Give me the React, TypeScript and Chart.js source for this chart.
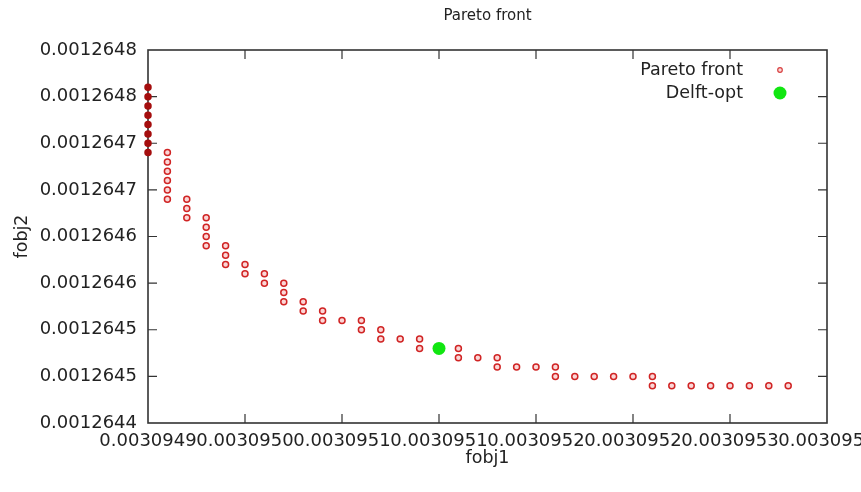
import React, { useEffect, useRef } from "react";
import { Chart, registerables } from "chart.js";

Chart.register(...registerables);

// Pareto front: one x value per column, list of y values per column
const paretoX = [
  0.0030949, 0.00309491, 0.00309492, 0.00309493, 0.00309494, 0.00309495,
  0.00309496, 0.00309497, 0.00309498, 0.00309499, 0.003095, 0.00309501,
  0.00309502, 0.00309503, 0.00309504, 0.00309505, 0.00309506, 0.00309507,
  0.00309508, 0.00309509, 0.0030951, 0.00309511, 0.00309512, 0.00309513,
  0.00309514, 0.00309515, 0.00309516, 0.00309517, 0.00309518, 0.00309519,
  0.0030952, 0.00309521, 0.00309522, 0.00309523,
];
const paretoY = [
  [0.00126469, 0.0012647, 0.00126471, 0.00126472, 0.00126473, 0.00126474, 0.00126475, 0.00126476],
  [0.00126464, 0.00126465, 0.00126466, 0.00126467, 0.00126468, 0.00126469],
  [0.00126462, 0.00126463, 0.00126464],
  [0.00126459, 0.0012646, 0.00126461, 0.00126462],
  [0.00126457, 0.00126458, 0.00126459],
  [0.00126456, 0.00126457],
  [0.00126455, 0.00126456],
  [0.00126453, 0.00126454, 0.00126455],
  [0.00126452, 0.00126453],
  [0.00126451, 0.00126452],
  [0.00126451],
  [0.0012645, 0.00126451],
  [0.00126449, 0.0012645],
  [0.00126449],
  [0.00126448, 0.00126449],
  [0.00126448],
  [0.00126447, 0.00126448],
  [0.00126447],
  [0.00126446, 0.00126447],
  [0.00126446],
  [0.00126446],
  [0.00126445, 0.00126446],
  [0.00126445],
  [0.00126445],
  [0.00126445],
  [0.00126445],
  [0.00126444, 0.00126445],
  [0.00126444],
  [0.00126444],
  [0.00126444],
  [0.00126444],
  [0.00126444],
  [0.00126444],
  [0.00126444],
];

const delftX = [0.00309505];
const delftY = [0.00126448];

const xTickValues = [
  0.0030949, 0.00309495, 0.003095, 0.00309505, 0.0030951, 0.00309515, 0.0030952, 0.00309525,
];
const xTickLabels = [
  "0.0030949", "0.0030950", "0.0030951", "0.0030951", "0.0030952", "0.0030952", "0.0030953", "0.0030954",
];
const yTickValues = [
  0.0012644, 0.00126445, 0.0012645, 0.00126455, 0.0012646, 0.00126465, 0.0012647, 0.00126475, 0.0012648,
];
const yTickLabels = [
  "0.0012644", "0.0012645", "0.0012645", "0.0012646", "0.0012646", "0.0012647", "0.0012647", "0.0012648", "0.0012648",
];

const FONT = "'DejaVu Sans', sans-serif";
const TEXT = "#222222";
const FRAME = "#333333";

const framePlugin = {
  id: "gnuframe",
  beforeDatasetsDraw(chart: any) {
    const { ctx, chartArea, scales } = chart;
    const { left, right, top, bottom } = chartArea;
    const tl = 9;
    ctx.save();
    ctx.strokeStyle = FRAME;
    ctx.lineWidth = 1.6;
    ctx.strokeRect(left, top, right - left, bottom - top);
    ctx.lineWidth = 1.2;
    ctx.beginPath();
    scales.x.ticks.forEach((t: any) => {
      const px = scales.x.getPixelForValue(t.value);
      if (px <= left + 1 || px >= right - 1) return;
      ctx.moveTo(px, bottom);
      ctx.lineTo(px, bottom - tl);
      ctx.moveTo(px, top);
      ctx.lineTo(px, top + tl);
    });
    scales.y.ticks.forEach((t: any) => {
      const py = scales.y.getPixelForValue(t.value);
      if (py <= top + 1 || py >= bottom - 1) return;
      ctx.moveTo(left, py);
      ctx.lineTo(left + tl, py);
      ctx.moveTo(right, py);
      ctx.lineTo(right - tl, py);
    });
    ctx.stroke();
    ctx.restore();
  },
};

const keyPlugin = {
  id: "gnukey",
  afterDraw(chart: any) {
    const { ctx, chartArea } = chart;
    const textRight = chartArea.right - 84;
    const markX = chartArea.right - 47;
    const rows = [chartArea.top + 20, chartArea.top + 43];
    ctx.save();
    ctx.font = `17.5px ${FONT}`;
    ctx.textAlign = "right";
    ctx.textBaseline = "middle";
    chart.data.datasets.forEach((ds: any, i: number) => {
      const y = rows[i];
      ctx.fillStyle = TEXT;
      ctx.fillText(ds.label, textRight, y);
      ctx.beginPath();
      ctx.arc(markX, y, ds.keyRadius, 0, Math.PI * 2);
      ctx.fillStyle = ds.keyFill;
      ctx.fill();
      ctx.lineWidth = ds.keyBorderWidth;
      ctx.strokeStyle = ds.keyBorder;
      if (ds.keyBorderWidth > 0) ctx.stroke();
    });
    ctx.restore();
  },
};

export default function App() {
  const ref = useRef<HTMLCanvasElement | null>(null);

  useEffect(() => {
    if (!ref.current) return;
    const paretoPoints = paretoX.flatMap((x, i) => paretoY[i].map((y) => ({ x, y })));
    const delftPoints = delftX.map((x, i) => ({ x, y: delftY[i] }));
    const isEdge = (c: any) => c.raw && c.raw.x === paretoX[0];

    const chart = new Chart(ref.current, {
      type: "scatter",
      data: {
        datasets: [
          {
            label: "Pareto front",
            data: paretoPoints,
            order: 1,
            pointRadius: 3,
            pointBorderWidth: 1.5,
            pointBackgroundColor: (c: any) => (isEdge(c) ? "#a50e0e" : "#fbd6d6"),
            pointBorderColor: (c: any) => (isEdge(c) ? "#a50e0e" : "#d02424"),
            clip: false,
            keyRadius: 2.3,
            keyFill: "#fbd6d6",
            keyBorder: "#d84040",
            keyBorderWidth: 1.2,
          } as any,
          {
            label: "Delft-opt",
            data: delftPoints,
            order: 0,
            pointRadius: 6.5,
            pointBorderWidth: 0,
            pointBackgroundColor: "#11e611",
            pointBorderColor: "#11e611",
            clip: false,
            keyRadius: 6.5,
            keyFill: "#11e611",
            keyBorder: "#11e611",
            keyBorderWidth: 0,
          } as any,
        ],
      },
      options: {
        animation: false,
        responsive: false,
        layout: { padding: { left: 0, right: 34, top: 0, bottom: 0 } },
        plugins: {
          legend: { display: false },
          tooltip: { enabled: false },
          title: {
            display: true,
            fullSize: false,
            text: "Pareto front",
            color: TEXT,
            font: { family: FONT, size: 15, weight: "normal", lineHeight: 1.2 },
            padding: { top: 7, bottom: 25 },
          },
        },
        scales: {
          x: {
            type: "linear",
            min: xTickValues[0],
            max: xTickValues[xTickValues.length - 1],
            grid: { display: false, drawTicks: false },
            border: { display: false },
            afterBuildTicks: (s: any) => {
              s.ticks = xTickValues.map((value) => ({ value }));
            },
            afterFit: (s: any) => {
              s.height = 69;
              s.paddingLeft = 0;
              s.paddingRight = 0;
            },
            ticks: {
              autoSkip: false,
              maxRotation: 0,
              minRotation: 0,
              padding: 8,
              color: TEXT,
              font: { family: FONT, size: 18, lineHeight: 1.2 },
              callback: (_v: any, i: number) => xTickLabels[i],
            },
            title: {
              display: true,
              text: "fobj1",
              color: TEXT,
              font: { family: FONT, size: 17.5, lineHeight: 1.2 },
              padding: { top: 0, bottom: 23 },
            },
          },
          y: {
            type: "linear",
            min: yTickValues[0],
            max: yTickValues[yTickValues.length - 1],
            grid: { display: false, drawTicks: false },
            border: { display: false },
            afterBuildTicks: (s: any) => {
              s.ticks = yTickValues.map((value) => ({ value }));
            },
            afterFit: (s: any) => {
              s.width = 148;
              s.paddingTop = 0;
              s.paddingBottom = 0;
            },
            ticks: {
              autoSkip: false,
              padding: 11,
              color: TEXT,
              font: { family: FONT, size: 18, lineHeight: 1.2 },
              callback: (_v: any, i: number) => yTickLabels[i],
            },
            title: {
              display: true,
              text: "fobj2",
              color: TEXT,
              font: { family: FONT, size: 17.5, lineHeight: 1.2 },
              padding: { top: 12, bottom: 0 },
            },
          },
        },
      } as any,
      plugins: [framePlugin, keyPlugin],
    });
    return () => chart.destroy();
  }, []);

  return (
    <div style={{ position: "absolute", left: 0, top: 0, width: 861, height: 492, background: "#ffffff" }}>
      <canvas ref={ref} width={861} height={492} style={{ display: "block" }} />
    </div>
  );
}
